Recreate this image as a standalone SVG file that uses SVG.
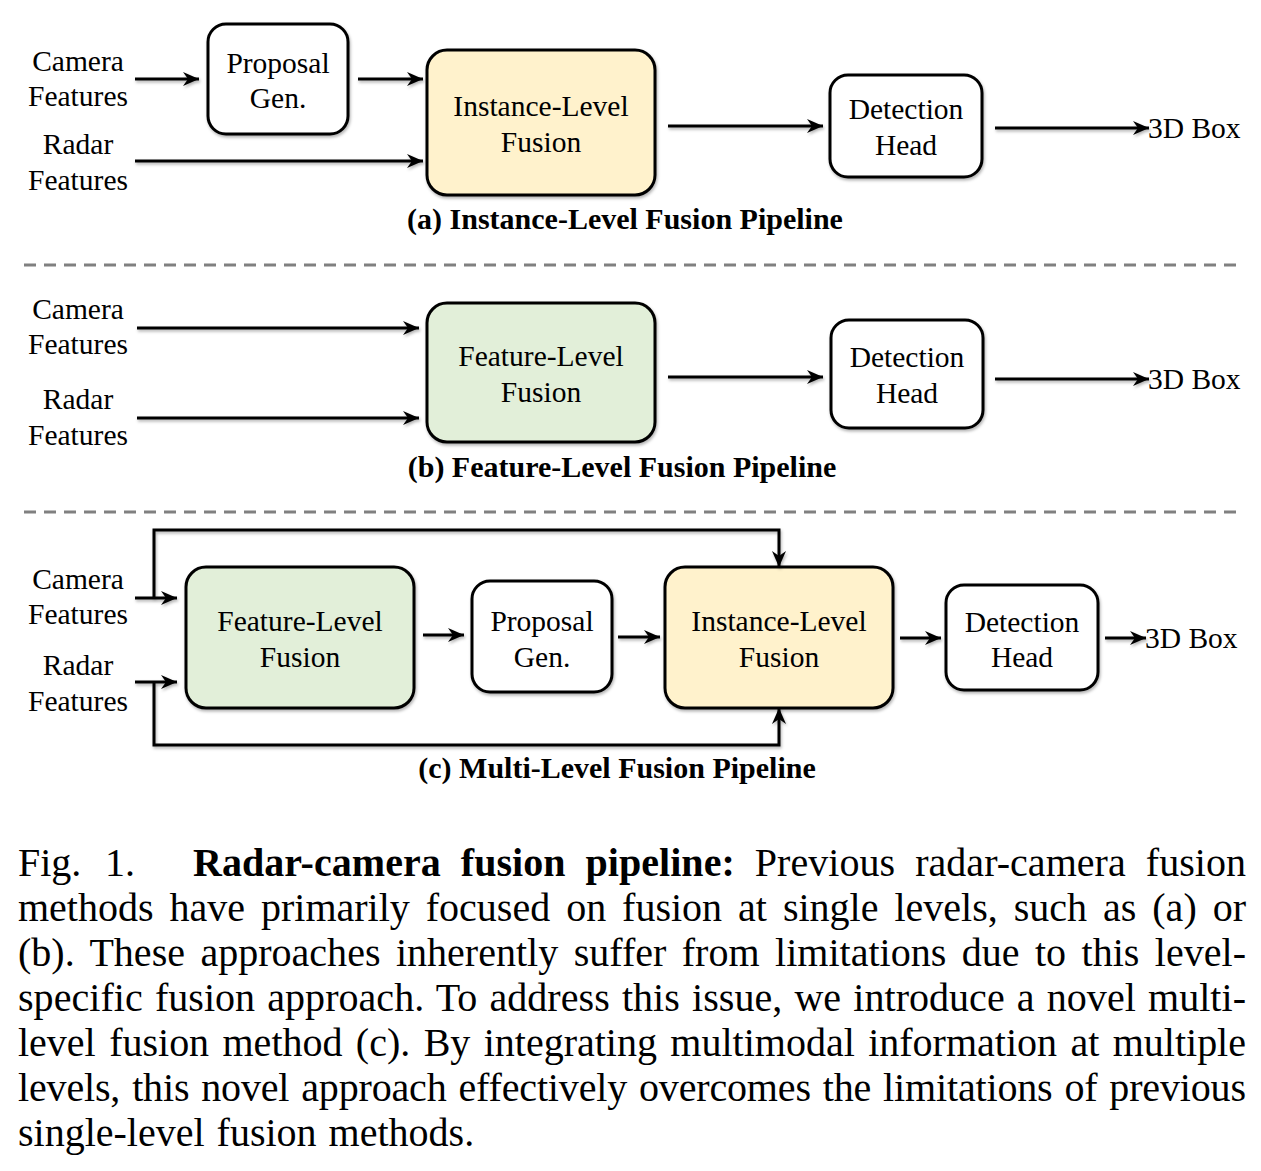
<svg xmlns="http://www.w3.org/2000/svg" width="1261" height="1171" viewBox="0 0 1261 1171">
<defs>
<marker id="ah" markerUnits="userSpaceOnUse" markerWidth="18" markerHeight="16" refX="16" refY="8" orient="auto">
<path d="M0,1 L16,8 L0,15 L5,8 z" fill="#000"/>
</marker>
<filter id="sh" filterUnits="userSpaceOnUse" x="0" y="0" width="1261" height="1171">
<feDropShadow dx="1" dy="2" stdDeviation="1.5" flood-color="#000" flood-opacity="0.3"/>
</filter>
<style>
.box{stroke:#000;stroke-width:3;filter:url(#sh)}
.w{fill:#fff}
.y{fill:#fff2cc}
.g{fill:#e2efd9}
.t{font-family:"Liberation Serif","Times New Roman",serif;font-size:29.5px;fill:#000;text-anchor:middle}
.ts{font-family:"Liberation Serif","Times New Roman",serif;font-size:29.5px;fill:#000}
.cap{font-family:"Liberation Serif","Times New Roman",serif;font-size:30px;font-weight:bold;fill:#000;text-anchor:middle}
.c{fill:none;stroke:#000;stroke-width:3;marker-end:url(#ah);filter:url(#sh)}
.dash{stroke:#808080;stroke-width:3;stroke-dasharray:12 8}
.p{font-family:"Liberation Serif","Times New Roman",serif;font-size:40px;fill:#000}
</style>
</defs>
<rect width="1261" height="1171" fill="#fff"/>

<!-- (a) -->
<g id="a-inputs">
<text class="t" x="78" y="71">Camera</text>
<text class="t" x="78" y="106">Features</text>
<text class="t" x="78" y="154">Radar</text>
<text class="t" x="78" y="190">Features</text>
</g>
<g id="a-proposal">
<rect class="box w" x="208" y="24" width="140" height="110" rx="18"/>
<text class="t" x="278" y="73">Proposal</text>
<text class="t" x="278" y="108">Gen.</text>
</g>
<g id="a-instance">
<rect class="box y" x="427" y="50" width="228" height="145" rx="20"/>
<text class="t" x="541" y="116">Instance-Level</text>
<text class="t" x="541" y="152">Fusion</text>
</g>
<g id="a-detection">
<rect class="box w" x="830" y="75" width="152" height="102" rx="18"/>
<text class="t" x="906" y="119">Detection</text>
<text class="t" x="906" y="155">Head</text>
</g>
<g id="a-output"><text class="ts" x="1148" y="138">3D Box</text></g>
<text class="cap" x="625" y="229">(a) Instance-Level Fusion Pipeline</text>
<line class="dash" x1="24" y1="265" x2="1240" y2="265"/>

<!-- (b) -->
<g id="b-inputs">
<text class="t" x="78" y="319">Camera</text>
<text class="t" x="78" y="354">Features</text>
<text class="t" x="78" y="409">Radar</text>
<text class="t" x="78" y="445">Features</text>
</g>
<g id="b-feature">
<rect class="box g" x="427" y="303" width="228" height="139" rx="20"/>
<text class="t" x="541" y="366">Feature-Level</text>
<text class="t" x="541" y="402">Fusion</text>
</g>
<g id="b-detection">
<rect class="box w" x="831" y="320" width="152" height="108" rx="18"/>
<text class="t" x="907" y="367">Detection</text>
<text class="t" x="907" y="403">Head</text>
</g>
<g id="b-output"><text class="ts" x="1148" y="389">3D Box</text></g>
<text class="cap" x="622" y="477">(b) Feature-Level Fusion Pipeline</text>
<line class="dash" x1="24" y1="512" x2="1240" y2="512"/>

<!-- (c) -->
<g id="c-inputs">
<text class="t" x="78" y="589">Camera</text>
<text class="t" x="78" y="624">Features</text>
<text class="t" x="78" y="675">Radar</text>
<text class="t" x="78" y="711">Features</text>
</g>
<g id="c-feature">
<rect class="box g" x="186" y="567" width="228" height="141" rx="20"/>
<text class="t" x="300" y="631">Feature-Level</text>
<text class="t" x="300" y="667">Fusion</text>
</g>
<g id="c-proposal">
<rect class="box w" x="472" y="581" width="140" height="111" rx="18"/>
<text class="t" x="542" y="631">Proposal</text>
<text class="t" x="542" y="667">Gen.</text>
</g>
<g id="c-instance">
<rect class="box y" x="665" y="567" width="228" height="141" rx="20"/>
<text class="t" x="779" y="631">Instance-Level</text>
<text class="t" x="779" y="667">Fusion</text>
</g>
<g id="c-detection">
<rect class="box w" x="946" y="585" width="152" height="105" rx="18"/>
<text class="t" x="1022" y="632">Detection</text>
<text class="t" x="1022" y="667">Head</text>
</g>
<g id="c-output"><text class="ts" x="1145" y="648">3D Box</text></g>
<text class="cap" x="617" y="778">(c) Multi-Level Fusion Pipeline</text>

<g id="connectors">
<!-- a -->
<path class="c" d="M135,79 H199"/>
<path class="c" d="M358,79 H423"/>
<path class="c" d="M135,161 H423"/>
<path class="c" d="M668,126 H823"/>
<path class="c" d="M995,128 H1149"/>
<!-- b -->
<path class="c" d="M137,328 H419"/>
<path class="c" d="M137,418 H419"/>
<path class="c" d="M668,377 H823"/>
<path class="c" d="M995,379 H1149"/>
<!-- c -->
<path class="c" d="M135,598 H177"/>
<path class="c" d="M154,598 V530 H779 V567"/>
<path class="c" d="M135,682 H177"/>
<path class="c" d="M154,682 V745 H779 V708"/>
<path class="c" d="M423,635 H464"/>
<path class="c" d="M618,637 H660"/>
<path class="c" d="M900,638 H941"/>
<path class="c" d="M1105,638 H1146"/>
</g>

<g id="caption">
<text class="p" x="18" y="876">Fig.</text>
<text class="p" x="105" y="876">1.</text>
<text class="p" x="193" y="876" word-spacing="10" textLength="1053" lengthAdjust="spacing"><tspan font-weight="bold">Radar-camera fusion pipeline:</tspan> Previous radar-camera fusion</text>
<text class="p" x="18" y="921" word-spacing="6" textLength="1228" lengthAdjust="spacing">methods have primarily focused on fusion at single levels, such as (a) or</text>
<text class="p" x="18" y="966" word-spacing="5.4" textLength="1228" lengthAdjust="spacing">(b). These approaches inherently suffer from limitations due to this level-</text>
<text class="p" x="18" y="1011" word-spacing="2.1" textLength="1228" lengthAdjust="spacing">specific fusion approach. To address this issue, we introduce a novel multi-</text>
<text class="p" x="18" y="1056" word-spacing="3.4" textLength="1228" lengthAdjust="spacing">level fusion method (c). By integrating multimodal information at multiple</text>
<text class="p" x="18" y="1101" word-spacing="2.1" textLength="1228" lengthAdjust="spacing">levels, this novel approach effectively overcomes the limitations of previous</text>
<text class="p" x="18" y="1146" word-spacing="2">single-level fusion methods.</text>
</g>
</svg>
